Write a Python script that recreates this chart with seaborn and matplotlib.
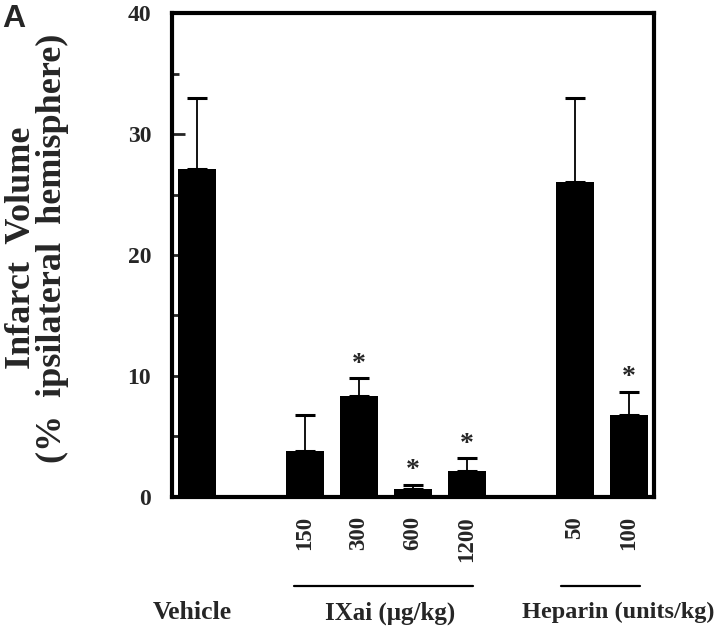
import numpy as np
import pandas as pd
import matplotlib
matplotlib.use('Agg')
import matplotlib.pyplot as plt
from matplotlib.ticker import MultipleLocator
import seaborn as sns

# values
groups = ['Vehicle', '150', '300', '600', '1200', '50', '100']
positions = [0, 2, 3, 4, 5, 7, 8]
means = [27.1, 3.8, 8.3, 0.6, 2.1, 26.0, 6.8]
sem = [5.9, 3.0, 1.5, 0.4, 1.1, 7.0, 1.9]
significant = [False, False, True, True, True, False, True]
yticks = [0, 10, 20, 30, 40]

df = pd.DataFrame({'group': groups, 'pos': positions, 'mean': means, 'sem': sem, 'sig': significant})

sns.set_style('ticks')
plt.rcParams['font.family'] = ['Liberation Serif', 'DejaVu Serif']
plt.rcParams['font.weight'] = 'bold'

fig = plt.figure(figsize=(7.2, 6.28), dpi=100)
ax = fig.add_axes([0.239, 0.209, 0.669, 0.770])

sns.barplot(data=df, x='pos', y='mean', native_scale=True, color='black',
            saturation=1, width=0.7, errorbar=None, ax=ax, linewidth=0)
ax.errorbar(df['pos'], df['mean'], yerr=[np.zeros(len(df)), df['sem']],
            fmt='none', ecolor='black', elinewidth=1.3, capsize=7.5, capthick=2.2)

for p, m, s, sig in zip(positions, means, sem, significant):
    if sig:
        ax.annotate('*', xy=(p, m + s), xytext=(0, 1), textcoords='offset points',
                    ha='center', va='bottom', fontsize=20, fontweight='bold')

ax.set_xlim(-0.46, 8.46)
ax.set_ylim(0, 40)
ax.set_yticks(yticks)
ax.yaxis.set_minor_locator(MultipleLocator(5))
ax.tick_params(axis='y', which='major', direction='in', length=9, width=2,
               labelsize=17, pad=15, right=False)
ax.tick_params(axis='y', which='minor', direction='in', length=5, width=2)
ax.set_xticks(positions[1:])
ax.set_xticklabels(groups[1:], rotation=90, va='top', fontsize=16.5, fontweight='bold')
ax.tick_params(axis='x', length=0, pad=14)
for lab in ax.get_yticklabels():
    lab.set_fontweight('bold')
ax.set_xlabel('')
ax.set_ylabel('')
for sp in ax.spines.values():
    sp.set_visible(True)
    sp.set_linewidth(3)
    sp.set_color('black')

# group labels under the axis
tr = ax.get_xaxis_transform()
ax.plot([1.8, 5.11], [-0.184, -0.184], color='black', lw=1.6, transform=tr, clip_on=False)
ax.plot([6.74, 8.2], [-0.184, -0.184], color='black', lw=1.6, transform=tr, clip_on=False)
ax.text(-0.08, -0.24, 'Vehicle', transform=tr, ha='center', va='center', fontsize=18.5, fontweight='bold')
ax.text(3.58, -0.24, 'IXai (\u03bcg/kg)', transform=tr, ha='center', va='center', fontsize=18, fontweight='bold')
ax.text(7.8, -0.24, 'Heparin (units/kg)', transform=tr, ha='center', va='center', fontsize=17.5, fontweight='bold')

# y axis title, two lines
fig.text(37 / 720, 0.605, 'Infarct  Volume\n(%  ipsilateral  hemisphere)', rotation=90,
         ha='center', va='center', multialignment='center', linespacing=0.88,
         fontsize=26, fontweight='bold')

fig.text(2 / 720, 1 - 4 / 628, 'A', ha='left', va='top', fontsize=23, fontweight='bold',
         family=['Liberation Sans', 'DejaVu Sans'])

fig.savefig('out.png', dpi=100)
